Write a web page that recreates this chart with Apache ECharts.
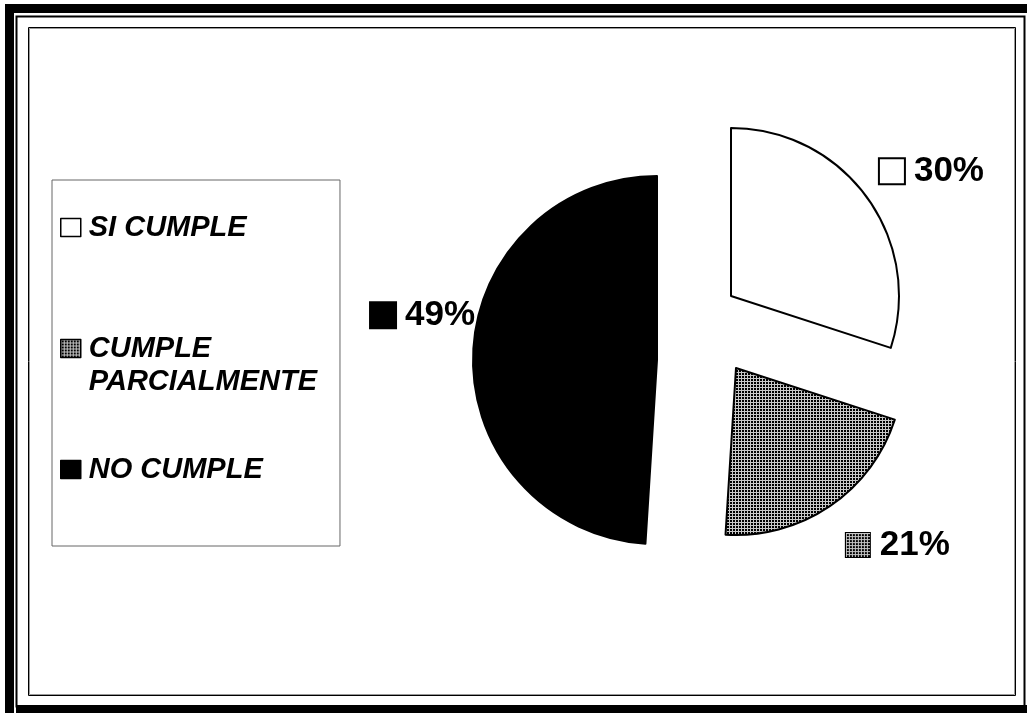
<!DOCTYPE html>
<html>
<head>
<meta charset="utf-8">
<script src="https://cdn.jsdelivr.net/npm/echarts@6/dist/echarts.min.js"></script>
<style>
  html, body { margin: 0; padding: 0; background: #fff; }
  #chart { width: 1027px; height: 713px; }
</style>
</head>
<body>
<div id="chart"></div>
<script>
// datos
const categories = ['SI CUMPLE', 'CUMPLE PARCIALMENTE', 'NO CUMPLE'];
const percentages = [30, 21, 49];

const FONT = 'Liberation Sans, Arial, sans-serif';

// trama cuadriculada para "cumple parcialmente"
function makeHatch(size) {
  const c = document.createElement('canvas');
  c.width = size; c.height = size;
  const ctx = c.getContext('2d');
  ctx.fillStyle = '#000';
  ctx.fillRect(0, 0, size, size);
  ctx.fillStyle = '#c8c8c8';
  for (let p = 0; p < size; p += 3) {
    ctx.fillRect(0, p, size, 1);
    ctx.fillRect(p, 0, 1, size);
  }
  return c;
}
const hatchTile = makeHatch(3);
const hatchBox = makeHatch(24).toDataURL();

const fills = ['#fff', { image: hatchTile, repeat: 'repeat' }, '#000'];
const boxFills = ['#fff', { image: hatchBox }, '#000'];

// cada porción es una serie propia para poder separarla (explode)
const sliceSeries = (idx, center, radius, shift) => ({
  type: 'pie',
  center,
  radius,
  startAngle: 90,
  clockwise: true,
  silent: true,
  animation: false,
  avoidLabelOverlap: false,
  data: categories.map((name, i) => ({
    name,
    value: percentages[i],
    itemStyle: i === idx
      ? { color: fills[i], borderColor: '#000', borderWidth: 2 }
      : { color: 'transparent', borderWidth: 0 },
    label: { show: i === idx },
  })),
  label: {
    position: 'outside',
    formatter: '{box|}{val|{c}%}',
    rich: {
      box: {
        width: 24, height: 24,
        backgroundColor: boxFills[idx],
        borderColor: '#000', borderWidth: 2,
      },
      val: {
        fontFamily: FONT, fontWeight: 'bold', fontSize: 35,
        color: '#000', padding: [0, 0, 0, 10],
      },
    },
  },
  labelLine: { show: false, length: 0, length2: 0 },
  labelLayout: (p) => (p.dataIndex === idx ? { dx: shift[0], dy: shift[1] } : {}),
});

const chart = echarts.init(document.getElementById('chart'));

const option = {
  backgroundColor: '#fff',
  legend: {
    orient: 'vertical',
    left: 52,
    top: 180,
    padding: [31, 23, 60, 8],
    itemGap: 55,
    itemWidth: 20,
    itemHeight: 18,
    icon: 'rect',
    backgroundColor: '#fff',
    borderColor: '#666',
    borderWidth: 1,
    borderRadius: 0,
    selectedMode: false,
    data: categories.map((name, i) => ({
      name,
      itemStyle: { color: fills[i], borderColor: '#000', borderWidth: 1.5 },
    })),
    formatter: (name) => (name === 'CUMPLE PARCIALMENTE' ? '\nCUMPLE\nPARCIALMENTE' : name),
    textStyle: {
      fontFamily: FONT, fontSize: 29, fontWeight: 'bold', fontStyle: 'italic',
      color: '#000', lineHeight: 33, padding: [0, 0, 0, 3],
    },
  },
  graphic: [
    // marco exterior con sombra
    { type: 'rect', shape: { x: 5, y: 4, width: 1022, height: 9 }, style: { fill: '#000' } },
    { type: 'rect', shape: { x: 5, y: 4, width: 9, height: 709 }, style: { fill: '#000' } },
    { type: 'rect', shape: { x: 16, y: 705, width: 1011, height: 8 }, style: { fill: '#000' } },
    { type: 'rect', shape: { x: 16.5, y: 16.5, width: 1008, height: 690 }, style: { fill: 'none', stroke: '#000', lineWidth: 2 } },
    // area del grafico
    { type: 'rect', shape: { x: 28.5, y: 27.5, width: 987, height: 668 }, style: { fill: 'none', stroke: '#000', lineWidth: 1 } },
    { type: 'rect', shape: { x: 29.5, y: 28.5, width: 985, height: 666 }, style: { fill: 'none', stroke: '#999', lineWidth: 1 } },
  ],
  series: [
    sliceSeries(0, [731, 296], 168, [8, -26]),
    sliceSeries(1, [736, 368], 167, [11, 39]),
    sliceSeries(2, [657, 360], 184, [7, -39]),
  ],
};

chart.setOption(option);
window.addEventListener('resize', () => chart.resize());
</script>
</body>
</html>
